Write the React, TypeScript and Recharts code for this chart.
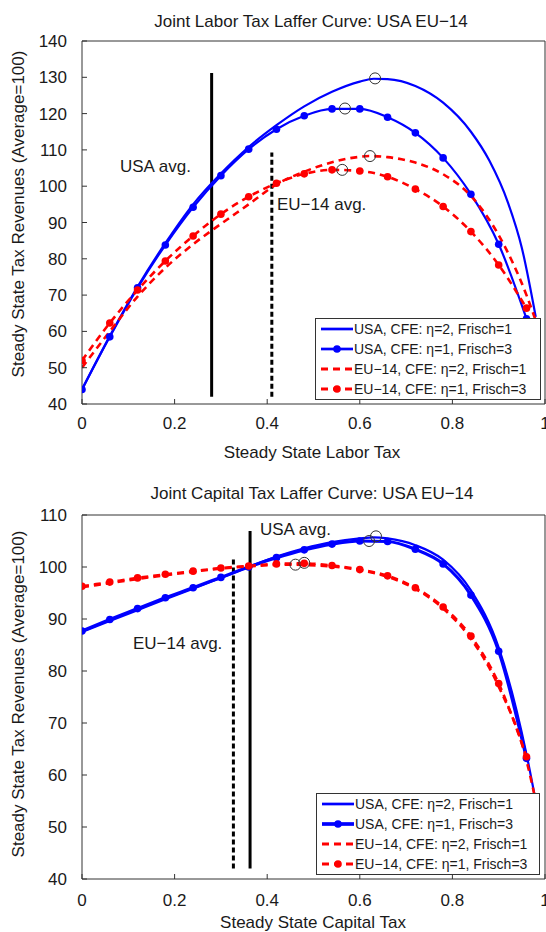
import React from "react";
import {
  ComposedChart,
  Line,
  XAxis,
  YAxis,
  ReferenceLine,
  ReferenceDot,
  Legend,
} from "recharts";

const FONT = '"Liberation Sans", Arial, Helvetica, sans-serif';
const BLUE = "#0000ff";
const RED = "#ff0000";
const INK = "#1a1a1a";
const FRAME = "#333333";

// shared axis ticks
const taxTicks = [0, 0.2, 0.4, 0.6, 0.8, 1];
const laborRevTicks = [40, 50, 60, 70, 80, 90, 100, 110, 120, 130, 140];
const capitalRevTicks = [40, 50, 60, 70, 80, 90, 100, 110];

// marker grid (every 0.06)
const taxGrid = [0, 0.06, 0.12, 0.18, 0.24, 0.3, 0.36, 0.42, 0.48, 0.54, 0.6, 0.66, 0.72, 0.78, 0.84, 0.9, 0.96];

// ---- labor tax panel ----
const laborUsaEta1 = [44.0, 58.5, 72.0, 83.8, 94.2, 102.9, 110.2, 115.7, 119.4, 121.3, 121.3, 119.0, 114.7, 107.8, 97.8, 84.0, 63.5];
const laborEuEta1 = [52.0, 62.3, 71.4, 79.4, 86.3, 92.3, 97.1, 100.8, 103.4, 104.5, 104.2, 102.6, 99.2, 94.4, 87.5, 78.3, 66.4];
const laborUsaEta2Tax = [0, 0.06, 0.12, 0.18, 0.24, 0.3, 0.36, 0.42, 0.48, 0.54, 0.6, 0.63, 0.66, 0.72, 0.78, 0.84, 0.88, 0.92, 0.95, 0.98];
const laborUsaEta2 = [44.0, 58.7, 72.3, 84.3, 95.0, 103.5, 110.8, 116.8, 122.0, 126.0, 128.8, 129.6, 129.5, 127.6, 123.0, 115.0, 107.0, 95.5, 83.0, 64.0];
const laborEuEta2Tax = [0, 0.06, 0.12, 0.18, 0.24, 0.3, 0.36, 0.42, 0.48, 0.54, 0.6, 0.62, 0.66, 0.72, 0.78, 0.84, 0.9, 0.96, 0.98];
const laborEuEta2 = [50.0, 60.0, 69.6, 77.5, 84.0, 89.6, 95.0, 100.5, 104.0, 106.6, 108.1, 108.3, 108.0, 106.5, 103.3, 97.3, 86.5, 70.0, 63.0];
const laborPeakTax = [0.633, 0.568, 0.622, 0.562];
const laborPeakRev = [129.7, 121.4, 108.3, 104.5];
const laborAvgTax = [0.28, 0.41];
const laborAvgTop = [131.2, 109.3];

// ---- capital tax panel ----
const capitalUsaEta1 = [87.7, 89.9, 92.0, 94.1, 96.0, 98.0, 100.0, 101.8, 103.3, 104.4, 105.0, 104.9, 103.4, 100.6, 94.6, 83.8, 63.2];
const capitalEuEta1 = [96.3, 97.1, 97.9, 98.6, 99.2, 99.8, 100.2, 100.6, 100.7, 100.3, 99.5, 98.3, 96.0, 92.3, 86.7, 77.6, 63.5];
const capitalUsaEta2Tax = [0, 0.06, 0.12, 0.18, 0.24, 0.3, 0.36, 0.42, 0.48, 0.54, 0.6, 0.63, 0.66, 0.72, 0.78, 0.84, 0.9, 0.96, 0.98];
const capitalUsaEta2 = [87.5, 89.6, 91.7, 93.8, 95.8, 97.9, 100.0, 102.0, 103.6, 104.8, 105.5, 105.7, 105.5, 104.2, 101.4, 95.5, 84.5, 64.0, 55.0];
const capitalEuEta2Tax = [0, 0.06, 0.12, 0.18, 0.24, 0.3, 0.36, 0.42, 0.46, 0.48, 0.54, 0.6, 0.66, 0.72, 0.78, 0.84, 0.9, 0.96, 0.98];
const capitalEuEta2 = [96.1, 96.9, 97.7, 98.4, 99.1, 99.7, 100.1, 100.4, 100.45, 100.4, 100.1, 99.4, 98.1, 95.8, 92.0, 86.2, 77.0, 62.8, 55.0];
const capitalPeakTax = [0.635, 0.62, 0.461, 0.48];
const capitalPeakRev = [105.9, 105.0, 100.45, 100.8];
const capitalAvgTax = [0.363, 0.327];
const capitalAvgTop = [106.9, 102.0];

const seriesNames = [
  "USA, CFE: η=2, Frisch=1",
  "USA, CFE: η=1, Frisch=3",
  "EU−14, CFE: η=2, Frisch=1",
  "EU−14, CFE: η=1, Frisch=3",
];

const toPoints = (xs: number[], ys: number[]) => xs.map((x, i) => ({ x, y: ys[i] }));

type Series = {
  name: string;
  points: { x: number; y: number }[];
  color: string;
  width: number;
  dash?: string;
  dots: boolean;
};

function LegendBox({ items }: { items: Series[] }) {
  return (
    <div
      style={{
        background: "#fff",
        border: `1px solid ${FRAME}`,
        fontSize: 14,
        color: INK,
        fontFamily: FONT,
        padding: "0 2px 0 5px",
      }}
    >
      {items.map((s) => (
        <div key={s.name} style={{ display: "flex", alignItems: "center", height: 20 }}>
          <svg width={32} height={12} style={{ flex: "none" }}>
            <line x1={0} y1={6} x2={32} y2={6} stroke={s.color} strokeWidth={s.width + 0.5} strokeDasharray={s.dash} />
            {s.dots && <circle cx={16} cy={6} r={3.8} fill={s.color} />}
          </svg>
          <span style={{ marginLeft: 1, whiteSpace: "nowrap" }}>{s.name}</span>
        </div>
      ))}
    </div>
  );
}

interface PanelProps {
  top: number;
  bottom: number;
  xTickMargin: number;
  yDomain: [number, number];
  yTicks: number[];
  series: Series[];
  peakTax: number[];
  peakRev: number[];
  avgTax: number[];
  avgTop: number[];
  legendLeft: number;
  legendTop: number;
  legendWidth: number;
}

function Panel(p: PanelProps) {
  return (
    <ComposedChart width={546} height={466} margin={{ top: p.top, right: 0, bottom: p.bottom, left: 0 }}>
      <XAxis
        xAxisId="b"
        type="number"
        dataKey="x"
        domain={[0, 1]}
        ticks={taxTicks}
        interval={0}
        allowDataOverflow
        tickSize={-5}
        tickMargin={p.xTickMargin}
        height={40}
        stroke={FRAME}
        tick={{ fill: INK, fontSize: 17 }}
      />
      <XAxis
        xAxisId="t"
        orientation="top"
        type="number"
        dataKey="x"
        domain={[0, 1]}
        ticks={taxTicks}
        interval={0}
        allowDataOverflow
        tickSize={-5}
        tick={false}
        height={1}
        stroke={FRAME}
      />
      <YAxis
        yAxisId="l"
        type="number"
        domain={p.yDomain}
        ticks={p.yTicks}
        interval={0}
        allowDataOverflow
        tickSize={-5}
        tickMargin={20}
        width={82}
        stroke={FRAME}
        tick={{ fill: INK, fontSize: 17 }}
      />
      <YAxis
        yAxisId="r"
        orientation="right"
        type="number"
        domain={p.yDomain}
        ticks={p.yTicks}
        interval={0}
        allowDataOverflow
        tickSize={-5}
        tick={false}
        width={1}
        stroke={FRAME}
      />
      {p.avgTax.map((x, i) => (
        <ReferenceLine
          key={"avg" + i}
          xAxisId="b"
          yAxisId="l"
          segment={[
            { x, y: 42 },
            { x, y: p.avgTop[i] },
          ]}
          stroke="#000"
          strokeWidth={3}
          strokeDasharray={i === 1 ? "5 3" : undefined}
          ifOverflow="visible"
        />
      ))}
      {p.series.map((s) => (
        <Line
          key={s.name}
          data={s.points}
          dataKey="y"
          name={s.name}
          xAxisId="b"
          yAxisId="l"
          type="monotone"
          stroke={s.color}
          strokeWidth={s.width}
          strokeDasharray={s.dash}
          dot={s.dots ? { r: 3.8, fill: s.color, stroke: "none" } : false}
          activeDot={false}
          isAnimationActive={false}
        />
      ))}
      {p.peakTax.map((x, i) => (
        <ReferenceDot
          key={"pk" + i}
          xAxisId="b"
          yAxisId="l"
          x={x}
          y={p.peakRev[i]}
          r={5.5}
          fill="none"
          stroke="#333"
          strokeWidth={1}
        />
      ))}
      <Legend
        layout="vertical"
        align="center"
        verticalAlign="middle"
        content={() => <LegendBox items={p.series} />}
        wrapperStyle={{ left: p.legendLeft, top: p.legendTop, width: p.legendWidth }}
      />
    </ComposedChart>
  );
}

function Txt({
  x,
  y,
  size = 17,
  left = false,
  rotate = false,
  children,
}: {
  x: number;
  y: number;
  size?: number;
  left?: boolean;
  rotate?: boolean;
  children: React.ReactNode;
}) {
  return (
    <div
      style={{
        position: "absolute",
        left: x,
        top: y,
        transform: `translate(${left ? "0" : "-50%"}, -50%)${rotate ? " rotate(-90deg)" : ""}`,
        fontSize: size,
        lineHeight: 1,
        whiteSpace: "nowrap",
        color: INK,
      }}
    >
      {children}
    </div>
  );
}

export default function App() {
  const laborSeries: Series[] = [
    { name: seriesNames[0], points: toPoints(laborUsaEta2Tax, laborUsaEta2), color: BLUE, width: 2.2, dots: false },
    { name: seriesNames[1], points: toPoints(taxGrid, laborUsaEta1), color: BLUE, width: 2.2, dots: true },
    { name: seriesNames[2], points: toPoints(laborEuEta2Tax, laborEuEta2), color: RED, width: 2.6, dash: "7 5", dots: false },
    { name: seriesNames[3], points: toPoints(taxGrid, laborEuEta1), color: RED, width: 2.6, dash: "7 5", dots: true },
  ];
  const capitalSeries: Series[] = [
    { name: seriesNames[0], points: toPoints(capitalUsaEta2Tax, capitalUsaEta2), color: BLUE, width: 2.2, dots: false },
    { name: seriesNames[1], points: toPoints(taxGrid, capitalUsaEta1), color: BLUE, width: 3.2, dots: true },
    { name: seriesNames[2], points: toPoints(capitalEuEta2Tax, capitalEuEta2), color: RED, width: 2.6, dash: "7 5", dots: false },
    { name: seriesNames[3], points: toPoints(taxGrid, capitalEuEta1), color: RED, width: 2.6, dash: "7 5", dots: true },
  ];

  return (
    <div
      style={{
        position: "absolute",
        left: 0,
        top: 0,
        width: 546,
        height: 932,
        background: "#fff",
        fontFamily: FONT,
        overflow: "hidden",
      }}
    >
      <div style={{ position: "absolute", left: 0, top: 0 }}>
        <Panel
          top={40}
          bottom={22}
          xTickMargin={18}
          yDomain={[40, 140]}
          yTicks={laborRevTicks}
          series={laborSeries}
          peakTax={laborPeakTax}
          peakRev={laborPeakRev}
          avgTax={laborAvgTax}
          avgTop={laborAvgTop}
          legendLeft={315}
          legendTop={318}
          legendWidth={226}
        />
      </div>
      <div style={{ position: "absolute", left: 0, top: 466 }}>
        <Panel
          top={48}
          bottom={13}
          xTickMargin={20}
          yDomain={[40, 110]}
          yTicks={capitalRevTicks}
          series={capitalSeries}
          peakTax={capitalPeakTax}
          peakRev={capitalPeakRev}
          avgTax={capitalAvgTax}
          avgTop={capitalAvgTop}
          legendLeft={316}
          legendTop={327}
          legendWidth={224}
        />
      </div>

      <Txt x={311} y={21}>Joint Labor Tax Laffer Curve: USA EU−14</Txt>
      <Txt x={312} y={452}>Steady State Labor Tax</Txt>
      <Txt x={18} y={214} rotate>Steady State Tax Revenues (Average=100)</Txt>
      <Txt x={120} y={166} left>USA avg.</Txt>
      <Txt x={277} y={204} left>EU−14 avg.</Txt>

      <Txt x={312} y={493}>Joint Capital Tax Laffer Curve: USA EU−14</Txt>
      <Txt x={313} y={922}>Steady State Capital Tax</Txt>
      <Txt x={18} y={694} rotate>Steady State Tax Revenues (Average=100)</Txt>
      <Txt x={260} y={529} left>USA avg.</Txt>
      <Txt x={133} y={643} left>EU−14 avg.</Txt>
    </div>
  );
}
